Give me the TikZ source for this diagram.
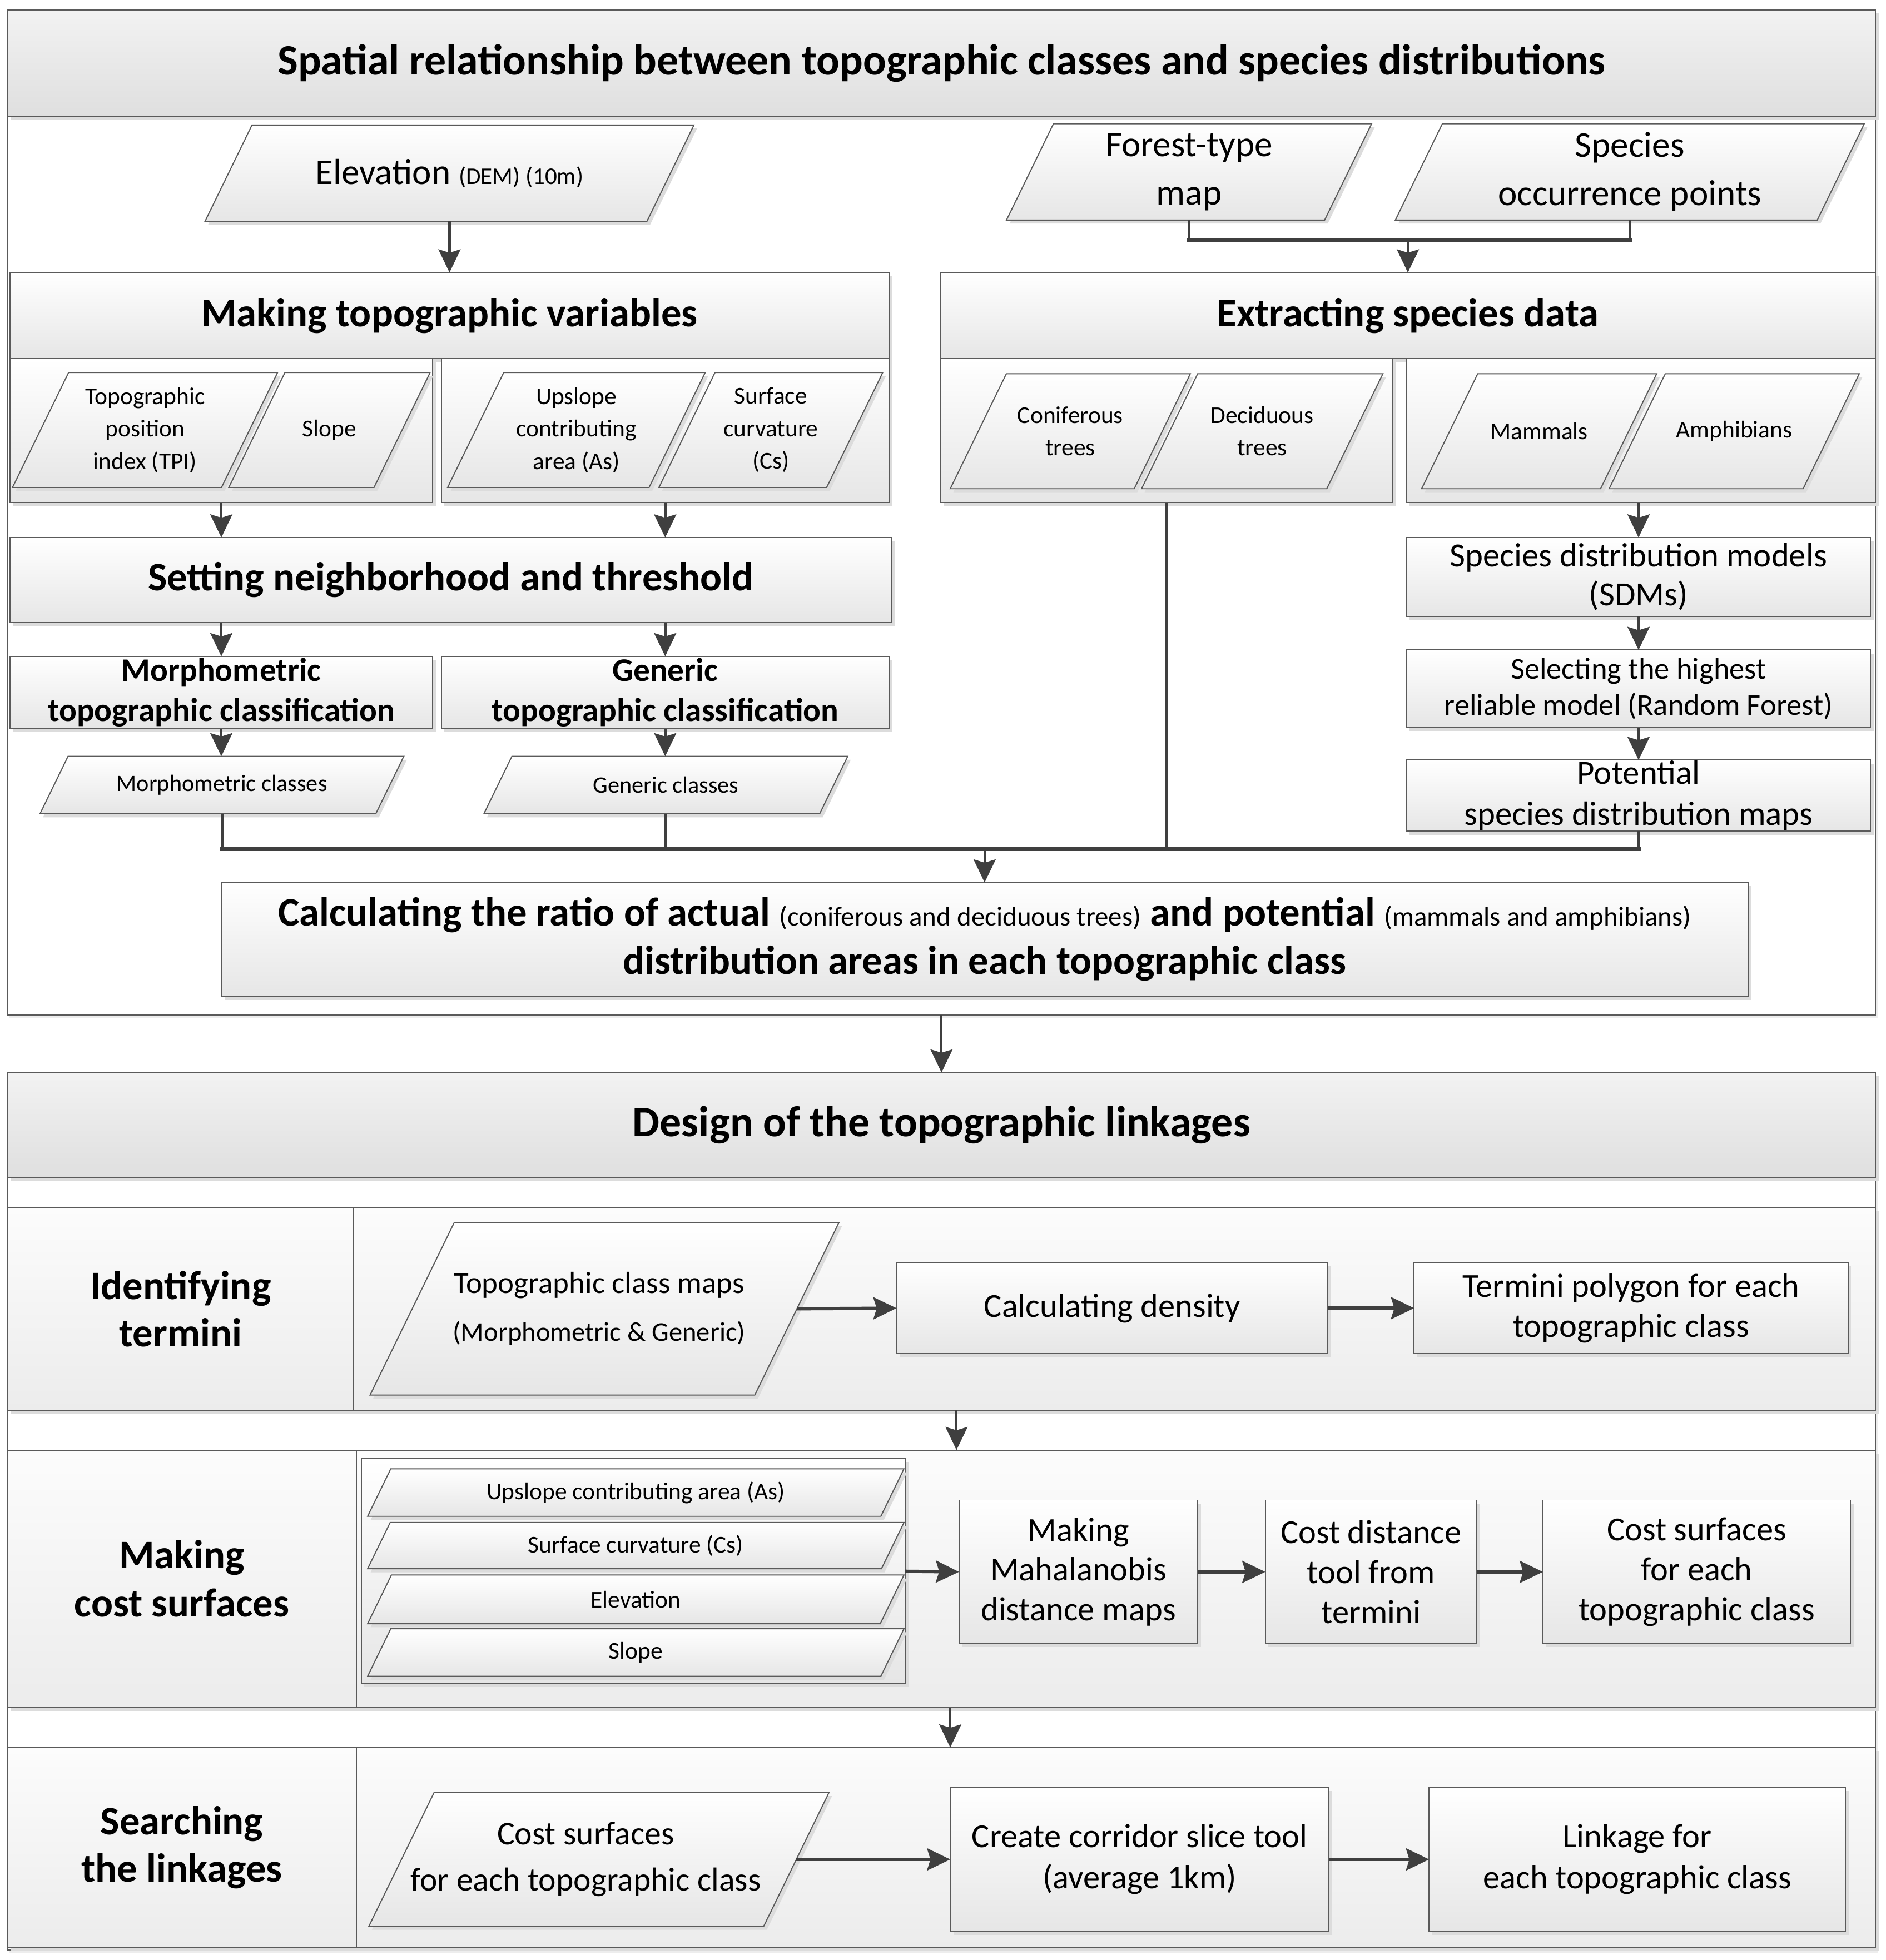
\documentclass[tikz,border=0pt]{standalone}
\usepackage{fontspec}
\setmainfont{Carlito}
\usetikzlibrary{shapes.geometric,shadows,arrows.meta,calc}
\definecolor{bordercol}{HTML}{5A5A5A}
\definecolor{arrowcol}{HTML}{3F3F3F}
\definecolor{shadebot}{HTML}{E6E6E6}
\definecolor{bandtop}{HTML}{F2F2F2}
\definecolor{bandbot}{HTML}{DFDFDF}
\definecolor{shadowcol}{HTML}{DCDCDC}
\definecolor{rowtop}{HTML}{FCFCFC}
\definecolor{rowbot}{HTML}{ECECEC}
\newcommand\fsz[2]{\fontsize{#1}{#2}\selectfont}
% box: style, name, x1, y1, x2, y2, font, text
\newcommand\nb[8]{\node[#1, font={#7}, minimum width={(#5-#3)*0.02cm}, minimum height={(#6-#4)*0.02cm}] (#2) at ({(#3+#5)/2},{(#4+#6)/2}) {#8};}
% parallelogram: name, x1, y1, x2, y2, font, text
\newcommand\pa[7]{%
  \path[paraf] ({#2+(#5-#3)*0.4877},#3) -- (#4,#3) -- ({#4-(#5-#3)*0.4877},#5) -- (#2,#5) -- cycle;
  \node[align=center, inner sep=0pt, outer sep=0pt, font={#6}, minimum width={(#4-#2-(#5-#3)*0.4877)*0.02cm}, minimum height={(#5-#3)*0.02cm}] (#1) at ({(#2+#4)/2},{(#3+#5)/2}) {#7};}
\tikzset{
  sh/.style={drop shadow={shadow xshift=1.4pt, shadow yshift=-1.6pt, fill=shadowcol, opacity=1}},
  gbox/.style={rectangle, draw=bordercol, line width=0.5pt, top color=white, bottom color=shadebot, sh, align=center, inner sep=0pt, outer sep=0pt},
  paraf/.style={draw=bordercol, line width=0.5pt, top color=white, bottom color=shadebot, sh, line join=miter},
  frame/.style={rectangle, draw=bordercol, line width=0.5pt, fill=white, drop shadow={shadow xshift=1pt, shadow yshift=-1.5pt, fill=black!7, opacity=1}, inner sep=0pt, outer sep=0pt},
  band/.style={gbox, top color=bandtop, bottom color=bandbot},
  cell/.style={gbox, top color=rowtop, bottom color=rowbot},
  conn/.style={draw=arrowcol, line width=1.2pt},
  arr/.style={conn, -{Stealth[length=10.5pt, width=10pt, inset=1.5pt]}},
  fat/.style={arr, line width=1.5pt},
  thinarr/.style={arr, line width=1pt},
  junc/.style={draw=arrowcol, line width=2pt, line cap=rect},
}
\begin{document}
\begin{tikzpicture}[x=0.02cm, y=-0.02cm]
\useasboundingbox (0,0) rectangle (1508,1568);
% ---------------- top section ----------------
\nb{frame}{topframe}{6}{8}{1500}{812}{}{}
\nb{band}{band1}{6}{8}{1500}{93}{\fsz{19.7}{24}\bfseries}{Spatial relationship between topographic classes and species distributions}
\pa{elev}{164}{100}{555}{177}{\fsz{16.5}{20}}{Elevation {\fsz{10.9}{13}(DEM) (10m)}}
\pa{forest}{805}{99}{1097}{176}{\fsz{16.5}{22}}{Forest-type\\map}
\pa{species}{1116}{99}{1491}{176}{\fsz{16.5}{22}}{Species\\occurrence points}
% making topographic variables
\nb{gbox}{mk}{8}{218}{711}{287}{\fsz{18.4}{22}\bfseries}{Making topographic variables}
\nb{gbox}{mkA}{8}{287}{346}{402}{}{}
\nb{gbox}{mkB}{353}{287}{711}{402}{}{}
\pa{tpi}{10}{298}{222}{390}{\fsz{11}{14.8}}{Topographic\\position\\index (TPI)}
\pa{slope}{183}{298}{344}{390}{\fsz{11}{14.8}}{Slope}
\pa{ups}{358}{298}{564}{390}{\fsz{11}{14.8}}{Upslope\\contributing\\area (As)}
\pa{curv}{527}{298}{706}{390}{\fsz{11}{14.8}}{Surface\\curvature\\(Cs)}
% extracting species data
\nb{gbox}{ex}{752}{218}{1500}{287}{\fsz{18.4}{22}\bfseries}{Extracting species data}
\nb{gbox}{exA}{752}{287}{1114}{402}{}{}
\nb{gbox}{exB}{1125}{287}{1500}{402}{}{}
\pa{conif}{760}{299}{952}{391}{\fsz{11}{14.8}}{Coniferous\\trees}
\pa{decid}{913}{299}{1106}{391}{\fsz{11}{14.8}}{Deciduous\\trees}
\pa{mamm}{1137}{299}{1325}{391}{\fsz{11}{14.8}}{Mammals}
\pa{amph}{1287}{299}{1487}{391}{\fsz{11}{14.8}}{Amphibians}
% neighborhood and classification
\nb{gbox}{set}{8}{430}{713}{498}{\fsz{18.4}{22}\bfseries}{Setting neighborhood and threshold}
\nb{gbox}{morphc}{8}{525}{346}{583}{\fsz{15}{18.2}\bfseries}{Morphometric\\topographic classification}
\nb{gbox}{genc}{353}{525}{711}{583}{\fsz{15}{18.2}\bfseries}{Generic\\topographic classification}
\pa{mcl}{32}{605}{323}{651}{\fsz{10.7}{13}}{Morphometric classes}
\pa{gcl}{387}{605}{678}{651}{\fsz{10.7}{13}}{Generic classes}
% SDM column
\nb{gbox}{sdm}{1125}{430}{1496}{493}{\fsz{15.4}{17.6}}{Species distribution models\\(SDMs)}
\nb{gbox}{sel}{1125}{520}{1496}{582}{\fsz{13.8}{16.5}}{Selecting the highest\\reliable model (Random Forest)}
\nb{gbox}{pot}{1125}{608}{1496}{665}{\fsz{15.4}{18.8}}{Potential\\species distribution maps}
% calculation box
\nb{gbox}{calc}{177}{706}{1398}{797}{\fsz{18.4}{22}\bfseries}{Calculating the ratio of actual {\mdseries\fsz{12.4}{14}(coniferous and deciduous trees)} and potential {\mdseries\fsz{12.4}{14}(mammals and amphibians)}\\distribution areas in each topographic class}
% connectors top
\draw[arr] (elev.south) -- (mk.north);
\coordinate (jT) at (1126,192);
\draw[conn] (forest.south) -- (forest.south |- jT);
\draw[conn] (species.south) -- (species.south |- jT);
\draw[junc] (forest.south |- jT) -- (species.south |- jT);
\draw[arr] (jT) -- (ex.north);
\draw[arr] (mkA.south) -- (mkA.south |- set.north);
\draw[arr] (mkB.south) -- (mkB.south |- set.north);
\draw[arr] (morphc.north |- set.south) -- (morphc.north);
\draw[arr] (genc.north |- set.south) -- (genc.north);
\draw[arr] (morphc.south) -- (morphc.south |- mcl.north);
\draw[arr] (genc.south) -- (genc.south |- gcl.north);
\draw[arr] (sdm.north |- exB.south) -- (sdm.north);
\draw[arr] (sdm.south) -- (sel.north);
\draw[arr] (sel.south) -- (pot.north);
\coordinate (jB) at (787.5,679);
\draw[conn] (mcl.south) -- (mcl.south |- jB);
\draw[conn] (gcl.south) -- (gcl.south |- jB);
\draw[conn] (exA.south) -- (exA.south |- jB);
\draw[conn] (pot.south) -- (pot.south |- jB);
\draw[junc] (mcl.south |- jB) -- (pot.south |- jB);
\draw[arr] (jB) -- (calc.north);
% ---------------- bottom section ----------------
\nb{frame}{botframe}{6}{858}{1500}{1560}{}{}
\draw[thinarr] (topframe.south) -- (botframe.north);
\nb{band}{band2}{6}{858}{1500}{942}{\fsz{19.7}{24}\bfseries}{Design of the topographic linkages}
% row 1
\nb{cell}{row1L}{6}{966}{283}{1128}{\fsz{18.4}{21.6}\bfseries}{Identifying\\termini}
\nb{cell}{row1R}{283}{966}{1500}{1128}{}{}
\pa{tcm}{296}{978}{671}{1116}{\fsz{13.9}{21.6}}{Topographic class maps\hspace*{5pt}\\{\fsz{12.3}{14}(Morphometric \& Generic)}\hspace*{5pt}}
\nb{gbox}{dens}{717}{1010}{1062}{1083}{\fsz{15.3}{18.2}}{Calculating density}
\nb{gbox}{term}{1131}{1010}{1478}{1083}{\fsz{15.3}{18.2}}{Termini polygon for each\\topographic class}
\draw[fat] (tcm.east) -- (dens.west);
\draw[fat] (dens.east) -- (term.west);
% row 2
\nb{cell}{row2L}{6}{1160}{285}{1366}{\fsz{18.4}{22}\bfseries}{Making\\cost surfaces}
\nb{cell}{row2R}{285}{1160}{1500}{1366}{}{}
\coordinate (r12) at (765,1128);
\draw[thinarr] (r12) -- (r12 |- row2R.north);
\nb{gbox}{grp}{289}{1167}{724}{1347}{}{}
\pa{p1}{294}{1175}{723}{1213}{\fsz{11}{13}}{Upslope contributing area (As)}
\pa{p2}{294}{1218}{723}{1255}{\fsz{11}{13}}{Surface curvature (Cs)}
\pa{p3}{294}{1260}{723}{1299}{\fsz{11}{13}}{Elevation}
\pa{p4}{294}{1303}{723}{1341}{\fsz{11}{13}}{Slope}
\nb{gbox}{maha}{767}{1200}{958}{1315}{\fsz{15.3}{18.2}}{Making\\Mahalanobis\\distance maps}
\nb{gbox}{cdist}{1012}{1200}{1181}{1315}{\fsz{15.3}{18.2}}{Cost distance\\tool from\\termini}
\nb{gbox}{csurf}{1234}{1200}{1480}{1315}{\fsz{15.3}{18.2}}{Cost surfaces\\for each\\topographic class}
\draw[fat] (grp.east) -- (maha.west);
\draw[fat] (maha.east) -- (cdist.west);
\draw[fat] (cdist.east) -- (csurf.west);
% row 3
\nb{cell}{row3L}{6}{1398}{285}{1558}{\fsz{18.4}{21.6}\bfseries}{Searching\\the linkages}
\nb{cell}{row3R}{285}{1398}{1500}{1558}{}{}
\coordinate (r23) at (760,1366);
\draw[thinarr] (r23) -- (r23 |- row3R.north);
\pa{cs3}{295}{1434}{663}{1541}{\fsz{15.1}{21}}{Cost surfaces\hspace*{12pt}\\for each topographic class\hspace*{12pt}}
\nb{gbox}{corr}{760}{1430}{1063}{1545}{\fsz{15.3}{18.8}}{Create corridor slice tool\\(average 1km)}
\nb{gbox}{link}{1143}{1430}{1476}{1545}{\fsz{15.3}{18.8}}{Linkage for\\each topographic class}
\draw[fat] (cs3.east) -- (corr.west);
\draw[fat] (corr.east) -- (link.west);
\end{tikzpicture}
\end{document}
